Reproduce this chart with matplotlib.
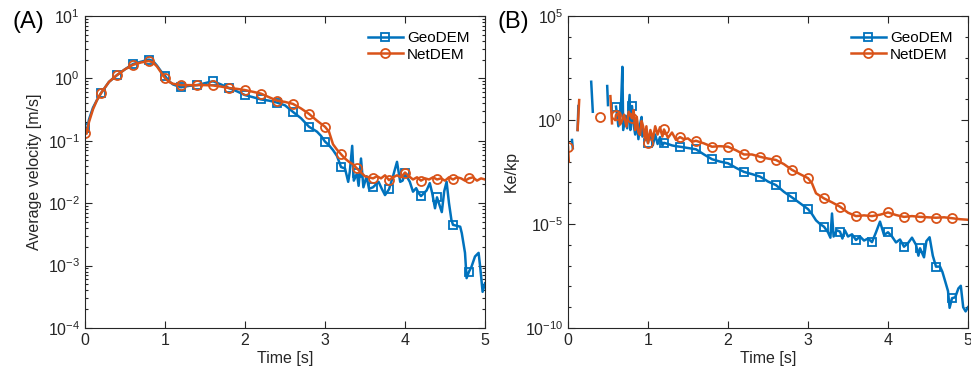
import numpy as np
import matplotlib
matplotlib.use("Agg")
import matplotlib.pyplot as plt
from matplotlib.ticker import LogLocator, NullFormatter, FixedLocator

plt.rcParams['font.family'] = ['Liberation Sans', 'DejaVu Sans']
plt.rcParams['mathtext.fontset'] = 'custom'
plt.rcParams['mathtext.rm'] = 'Liberation Sans'
plt.rcParams['mathtext.default'] = 'regular'

BLUE = '#0072BD'
ORANGE = '#D95319'
GRAY = '#262626'
nan = np.nan

# (A) average velocity [m/s]
vel_t_geo = [0.00, 0.02, 0.05, 0.10, 0.15, 0.20, 0.30, 0.40, 0.50, 0.60, 0.70, 0.80, 0.85, 0.90, 0.95,
             1.00, 1.05, 1.10, 1.20, 1.30, 1.40, 1.50, 1.60, 1.70, 1.80, 1.90, 2.00, 2.10, 2.20, 2.30,
             2.40, 2.50, 2.60, 2.70, 2.80, 2.90, 2.95, 3.00, 3.05, 3.10, 3.15, 3.20, 3.25, 3.29, 3.31,
             3.34, 3.36, 3.40, 3.42, 3.45, 3.48, 3.52, 3.55, 3.60, 3.67, 3.71, 3.75, 3.80, 3.85, 3.90,
             3.94, 3.97, 4.00, 4.06, 4.10, 4.14, 4.17, 4.20, 4.27, 4.31, 4.34, 4.375, 4.40, 4.46, 4.49,
             4.52, 4.55, 4.58, 4.60, 4.69, 4.71, 4.75, 4.77, 4.80, 4.83, 4.875, 4.92, 4.94, 4.97, 5.00]
vel_geo = [0.16, 0.14, 0.22, 0.34, 0.45, 0.58, 0.88, 1.13, 1.40, 1.70, 1.85, 2.00, 1.90, 1.60, 1.30,
           1.10, 0.90, 0.80, 0.72, 0.76, 0.78, 0.84, 0.90, 0.80, 0.70, 0.62, 0.54, 0.50, 0.46, 0.44,
           0.41, 0.37, 0.29, 0.23, 0.168, 0.14, 0.12, 0.097, 0.085, 0.071, 0.057, 0.038, 0.036, 0.022, 0.032,
           0.083, 0.023, 0.030, 0.019, 0.052, 0.018, 0.027, 0.017, 0.018, 0.022, 0.017, 0.0135, 0.0167, 0.027, 0.046,
           0.022, 0.023, 0.030, 0.022, 0.0153, 0.0174, 0.0145, 0.013, 0.016, 0.021, 0.0145, 0.0083, 0.0124, 0.0072, 0.0155,
           0.022, 0.010, 0.0054, 0.0045, 0.0042, 0.0033, 0.0016, 0.00063, 0.0008, 0.00095, 0.0014, 0.0016, 0.00095, 0.00038, 0.00052]

vel_t_net = [0.00, 0.02, 0.05, 0.10, 0.15, 0.20, 0.30, 0.40, 0.50, 0.60, 0.70, 0.80, 0.85, 0.90, 0.95,
             1.00, 1.05, 1.10, 1.20, 1.30, 1.40, 1.50, 1.60, 1.70, 1.80, 1.90, 2.00, 2.10, 2.20, 2.30,
             2.40, 2.50, 2.60, 2.70, 2.80, 2.90, 3.00, 3.05, 3.10, 3.15, 3.20, 3.25, 3.30, 3.35, 3.40,
             3.45, 3.50, 3.55, 3.60, 3.65, 3.70, 3.75, 3.80, 3.85, 3.90, 3.95, 4.00, 4.05, 4.10, 4.15,
             4.20, 4.25, 4.30, 4.35, 4.40, 4.45, 4.50, 4.55, 4.60, 4.65, 4.70, 4.75, 4.80, 4.85, 4.90,
             4.95, 5.00]
vel_net = [0.133, 0.13, 0.20, 0.32, 0.45, 0.58, 0.88, 1.13, 1.40, 1.65, 1.80, 1.90, 1.80, 1.55, 1.25,
           1.01, 0.88, 0.82, 0.78, 0.78, 0.78, 0.78, 0.77, 0.74, 0.70, 0.68, 0.65, 0.61, 0.57, 0.50,
           0.44, 0.42, 0.39, 0.33, 0.27, 0.21, 0.168, 0.14, 0.088, 0.072, 0.061, 0.052, 0.046, 0.042, 0.036,
           0.031, 0.027, 0.026, 0.025, 0.027, 0.025, 0.028, 0.0234, 0.026, 0.028, 0.026, 0.031, 0.027, 0.024, 0.026,
           0.023, 0.025, 0.024, 0.026, 0.024, 0.025, 0.023, 0.026, 0.024, 0.026, 0.025, 0.023, 0.025, 0.026, 0.023,
           0.025, 0.024]

# (B) Ke/kp, gaps are nan
ke_t_geo = [0.05, 0.06, 0.07, 0.12, 0.13, 0.14, 0.29, 0.31, 0.32, 0.49, 0.50, 0.51,
            0.60, 0.63, 0.66, 0.68, 0.69, 0.72, 0.74, 0.77, 0.78, 0.80, 0.82, 0.84, 0.86, 0.88,
            0.90, 0.92, 0.93, 0.96, 1.00, 1.03, 1.06, 1.09, 1.12, 1.15, 1.18, 1.20, 1.25, 1.30,
            1.35, 1.40, 1.50, 1.60, 1.70, 1.80, 1.90, 2.00, 2.10, 2.20, 2.30, 2.40, 2.50, 2.60,
            2.70, 2.80, 2.90, 3.00, 3.05, 3.10, 3.15, 3.20, 3.25, 3.28, 3.30, 3.32, 3.36, 3.40,
            3.43, 3.46, 3.50, 3.55, 3.60, 3.65, 3.70, 3.75, 3.80, 3.85, 3.90, 3.95, 4.00, 4.05,
            4.10, 4.15, 4.20, 4.25, 4.30, 4.35, 4.38, 4.40, 4.45, 4.48, 4.52, 4.56, 4.60, 4.65,
            4.68, 4.72, 4.75, 4.77, 4.80, 4.84, 4.88, 4.91, 4.94, 4.97, 5.00]
ke_geo = [0.11, 0.044, nan, 0.33, 4.7, nan, 69, 2.5, nan, 43, 5.2, nan,
          4.4, 0.5, 2.5, 360, 0.33, 1.6, 0.4, 16, 0.33, 4.7, 0.6, 0.2, 1.0, 0.12,
          0.6, 1.4, 0.16, 0.3, 0.08, 0.25, 0.06, 0.2, 0.07, 0.15, 0.06, 0.08, 0.07, 0.06,
          0.055, 0.052, 0.045, 0.039, 0.022, 0.013, 0.010, 0.0083, 0.0050, 0.0032, 0.0025, 0.0019, 0.0011, 0.00074,
          0.00035, 0.00019, 1.0e-4, 5.2e-5, 3.0e-5, 1.5e-5, 1.0e-5, 7.4e-6, 4e-6, 2.2e-6, 3.2e-5, 2.5e-6, 5e-6, 4.3e-6,
          2.0e-6, 5e-6, 2.5e-6, 3.2e-6, 1.7e-6, 2.5e-6, 1.6e-6, 2.0e-6, 1.35e-6, 4e-6, 1.3e-5, 3e-6, 4.0e-6, 2.5e-6,
          1.3e-6, 1.8e-6, 8.1e-7, 1.2e-6, 2.2e-6, 1.0e-6, 3.0e-7, 6.8e-7, 2.5e-7, 1.5e-6, 2.3e-6, 3e-7, 8.9e-8, 9e-8,
          5e-8, 1.5e-8, 6e-9, 9.3e-10, 2.7e-9, 3e-9, 8e-9, 1.07e-8, 1e-9, 6.3e-10, 1.0e-9]

ke_t_net = [0.00, 0.01, 0.02, 0.12, 0.14, 0.15, 0.40, 0.45, 0.53, 0.55, 0.57,
            0.59, 0.60, 0.63, 0.65, 0.67, 0.70, 0.73, 0.76, 0.80, 0.82, 0.84, 0.86, 0.88, 0.90,
            0.92, 0.94, 0.96, 0.98, 1.00, 1.03, 1.06, 1.09, 1.12, 1.15, 1.18, 1.20, 1.25, 1.30,
            1.35, 1.40, 1.45, 1.50, 1.55, 1.60, 1.70, 1.80, 1.90, 2.00, 2.10, 2.20, 2.30, 2.40,
            2.50, 2.60, 2.70, 2.80, 2.90, 3.00, 3.05, 3.10, 3.20, 3.30, 3.40, 3.50, 3.60, 3.70,
            3.80, 3.90, 4.00, 4.10, 4.20, 4.30, 4.40, 4.50, 4.60, 4.70, 4.80, 4.90, 5.00]
ke_net = [0.052, 0.010, nan, 0.33, 9.1, nan, 1.45, nan, 14.0, 0.69, nan,
          1.0, 1.74, 2.1, 0.6, 0.83, 1.8, 0.48, 2.5, 1.2, 3.0, 0.33, 1.4, 0.25, 0.19,
          0.9, 0.48, 0.13, 0.5, 0.076, 0.33, 0.12, 0.5, 0.20, 0.45, 0.16, 0.35, 0.14, 0.25,
          0.11, 0.15, 0.12, 0.13, 0.09, 0.10, 0.075, 0.052, 0.055, 0.052, 0.035, 0.022, 0.022, 0.017,
          0.014, 0.012, 0.0075, 0.004, 0.0025, 0.0016, 0.0009, 0.0003, 0.00017, 0.00011, 6.8e-5, 3.5e-5, 2.4e-5, 2.6e-5,
          2.4e-5, 2.8e-5, 3.6e-5, 2.7e-5, 2.2e-5, 2.4e-5, 2.2e-5, 2.1e-5, 2.0e-5, 2.1e-5, 1.9e-5, 1.7e-5, 1.6e-5]


def marker_idx(t):
    # marker every 0.2 s, up to 4.8 s
    return [i for i, v in enumerate(t) if abs(v / 0.2 - round(v / 0.2)) < 1e-6 and v < 4.9]


def style_axes(ax):
    for s in ax.spines.values():
        s.set_color(GRAY)
        s.set_linewidth(0.8)
    ax.tick_params(which='both', direction='in', top=True, right=True,
                   colors=GRAY, labelsize=11.5, width=0.8)
    ax.tick_params(which='major', length=5)
    ax.tick_params(which='minor', length=2.5)
    ax.tick_params(axis='x', which='minor', bottom=False, top=False)
    ax.set_xlim(0, 5)
    ax.set_xticks([0, 1, 2, 3, 4, 5])
    ax.set_xlabel('Time [s]', fontsize=11.5, color=GRAY, labelpad=2)


def draw(ax, tg, yg, tn, yn):
    ax.plot(tg, yg, color=BLUE, lw=1.8, marker='s', ms=6, mfc='none', mew=1.3,
            markevery=marker_idx(tg), label='GeoDEM')
    ax.plot(tn, yn, color=ORANGE, lw=1.8, marker='o', ms=6.5, mfc='none', mew=1.3,
            markevery=marker_idx(tn), label='NetDEM')
    ax.set_yscale('log')
    leg = ax.legend(loc='upper right', frameon=False, fontsize=11, handlelength=2.3,
                    handletextpad=0.3, labelspacing=0.15, borderaxespad=0.6)
    for txt in leg.get_texts():
        txt.set_color('black')


fig = plt.figure(figsize=(9.71, 3.80), dpi=100)
ax1 = fig.add_axes([85 / 971, 52 / 380, 400 / 971, 312 / 380])
ax2 = fig.add_axes([568 / 971, 52 / 380, 400 / 971, 312 / 380])

draw(ax1, vel_t_geo, vel_geo, vel_t_net, vel_net)
ax1.set_ylim(1e-4, 1e1)
ax1.yaxis.set_major_locator(LogLocator(base=10, numticks=10))
ax1.yaxis.set_minor_locator(LogLocator(base=10, subs=np.arange(2, 10), numticks=10))
ax1.yaxis.set_minor_formatter(NullFormatter())
style_axes(ax1)
ax1.set_ylabel('Average velocity [m/s]', fontsize=11.5, color=GRAY, labelpad=4)

draw(ax2, ke_t_geo, ke_geo, ke_t_net, ke_net)
ax2.set_ylim(1e-10, 1e5)
ax2.yaxis.set_major_locator(FixedLocator([1e-10, 1e-5, 1e0, 1e5]))
ax2.yaxis.set_minor_locator(LogLocator(base=10, subs=(1.0,), numticks=30))
ax2.yaxis.set_minor_formatter(NullFormatter())
style_axes(ax2)
ax2.set_ylabel('Ke/kp', fontsize=11.5, color=GRAY, labelpad=4)

fig.text(12 / 971, 1 - 22 / 380, '(A)', fontsize=17, va='center', ha='left')
fig.text(497 / 971, 1 - 22 / 380, '(B)', fontsize=17, va='center', ha='left')

fig.savefig('out.png', dpi=100)
